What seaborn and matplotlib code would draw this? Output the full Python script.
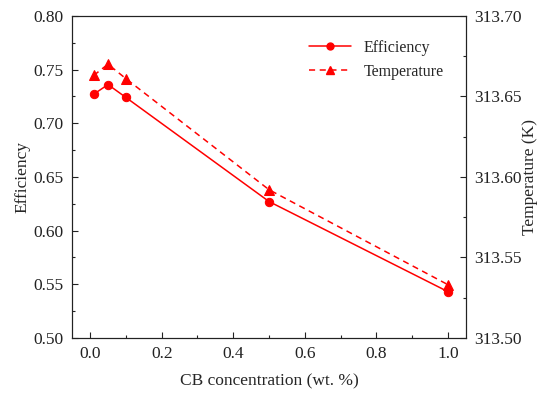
import matplotlib
matplotlib.use("Agg")
import matplotlib.pyplot as plt
import pandas as pd
import seaborn as sns
from matplotlib.lines import Line2D
from matplotlib.ticker import AutoMinorLocator, FormatStrFormatter, MultipleLocator

cb_conc = [0.01, 0.05, 0.1, 0.5, 1.0]
efficiency = [0.727, 0.736, 0.724, 0.627, 0.543]
temperature = [313.663, 313.670, 313.661, 313.592, 313.533]

df = pd.DataFrame({"cb": cb_conc, "eff": efficiency, "temp": temperature})

sns.set_theme(style="ticks")
plt.rcParams["font.family"] = ["Liberation Serif", "DejaVu Serif"]
red = "#ff0000"

fig, ax = plt.subplots(figsize=(5.43, 3.97), dpi=100)
fig.subplots_adjust(left=0.133, right=0.858, top=0.96, bottom=0.149)

sns.lineplot(data=df, x="cb", y="eff", color=red, marker="o", markersize=6,
             markeredgecolor=red, linewidth=1.1, ax=ax)
ax2 = ax.twinx()
sns.lineplot(data=df, x="cb", y="temp", color=red, marker="^", markersize=6.5,
             markeredgecolor=red, linewidth=1.1, linestyle=(0, (4, 3)), ax=ax2)

ax.set_xlim(-0.05, 1.05)
ax.set_ylim(0.50, 0.80)
ax2.set_ylim(313.50, 313.70)
ax.xaxis.set_major_locator(MultipleLocator(0.2))
ax.yaxis.set_major_locator(MultipleLocator(0.05))
ax2.yaxis.set_major_locator(MultipleLocator(0.05))
ax.xaxis.set_major_formatter(FormatStrFormatter("%.1f"))
ax.yaxis.set_major_formatter(FormatStrFormatter("%.2f"))
ax2.yaxis.set_major_formatter(FormatStrFormatter("%.2f"))
for a in (ax, ax2):
    a.xaxis.set_minor_locator(AutoMinorLocator(2))
    a.yaxis.set_minor_locator(AutoMinorLocator(2))
    a.tick_params(which="both", direction="in", width=0.8, colors="#222222")
    a.tick_params(which="major", length=4.5, labelsize=12.5, pad=6)
    a.tick_params(which="minor", length=2.5)
    for s in a.spines.values():
        s.set_color("#222222")
        s.set_linewidth(0.8)

ax.set_xlabel("CB concentration (wt. %)", fontsize=12.5)
ax.set_ylabel("Efficiency", fontsize=12.5)
ax2.set_ylabel("Temperature (K)", fontsize=12.5)
ax.xaxis.set_label_coords(0.5, -0.11)
ax.yaxis.set_label_coords(-0.107, 0.5)
ax2.yaxis.set_label_coords(1.142, 0.5)

handles = [
    Line2D([], [], color=red, marker="o", markersize=5, linewidth=1.1),
    Line2D([], [], color=red, marker="^", markersize=5.5, linewidth=1.1, linestyle=(0, (4, 3))),
]
ax2.legend(handles, ["Efficiency", "Temperature"], loc="upper right",
           bbox_to_anchor=(0.98, 0.97), frameon=False, fontsize=11.5,
           handlelength=2.6, labelspacing=0.5)

fig.savefig("out.png", dpi=100, facecolor="white")
